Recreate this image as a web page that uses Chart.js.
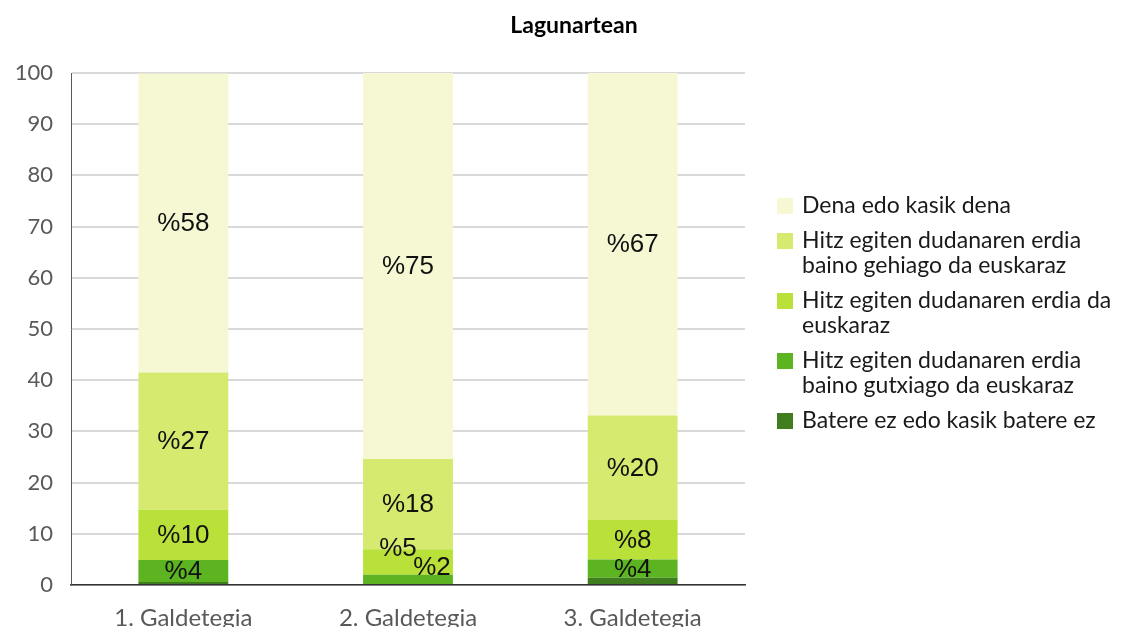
<!DOCTYPE html>
<html>
<head>
<meta charset="utf-8">
<script src="https://cdn.jsdelivr.net/npm/chart.js@4"></script>
<style>
  html, body { margin: 0; padding: 0; background: #fff; }
  #wrap { position: relative; width: 1128px; height: 627px; overflow: hidden; }
  #title { position: absolute; left: 474px; width: 200px; top: 10px; text-align: center; font-family: Lato, "Open Sans", sans-serif; font-weight: bold; font-size: 23px; color: #000; }
  #legend { position: absolute; left: 777px; top: 192px; font-family: Lato, "Open Sans", sans-serif; font-size: 23px; line-height: 25px; color: #1a1a1a; }
  #legend .item { display: flex; align-items: flex-start; margin-bottom: 10px; }
  #legend .box { width: 16px; height: 16px; margin: 6px 9px 0 0; flex: none; }
</style>
</head>
<body>
<div id="wrap">
  <canvas id="myChart" width="1128" height="627"></canvas>
  <div id="title">Lagunartean</div>
  <div id="legend"></div>
</div>
<script>
const categories = ['1. Galdetegia', '2. Galdetegia', '3. Galdetegia'];

// stacked from the bottom up
const batere = [0.6, 0, 1.4];
const gutxiago = [4.3, 2.0, 3.6];
const erdia = [9.8, 5.0, 7.7];
const gehiago = [26.8, 17.6, 20.4];
const dena = [58.4, 75.4, 66.9];

const seriesNames = [
  'Batere ez edo kasik batere ez',
  'Hitz egiten dudanaren erdia\nbaino gutxiago da euskaraz',
  'Hitz egiten dudanaren erdia da\neuskaraz',
  'Hitz egiten dudanaren erdia\nbaino gehiago da euskaraz',
  'Dena edo kasik dena'
];

const colors = ['rgb(64,125,30)', 'rgb(92,181,32)', 'rgb(186,225,58)', 'rgb(214,234,112)', 'rgb(246,248,212)'];

// hand-nudged labels where segments are too thin (dataset:index -> dx, dy)
const labelNudge = { '2:1': [-10, -14], '1:1': [24, -13] };

const segmentLabels = {
  id: 'segmentLabels',
  afterDatasetsDraw(chart) {
    const ctx = chart.ctx;
    ctx.save();
    ctx.font = '26px "Liberation Sans", Arial, sans-serif';
    ctx.fillStyle = '#111';
    ctx.textAlign = 'center';
    ctx.textBaseline = 'middle';
    chart.data.datasets.forEach((ds, di) => {
      const meta = chart.getDatasetMeta(di);
      meta.data.forEach((bar, i) => {
        const v = ds.data[i];
        if (v < 1.8) return;
        const nudge = labelNudge[di + ':' + i] || [0, 0];
        const y = (bar.y + bar.base) / 2;
        ctx.fillText('%' + Math.round(v), bar.x + nudge[0], y + nudge[1] + 1);
      });
    });
    ctx.restore();
  }
};

const values = [batere, gutxiago, erdia, gehiago, dena];
const datasets = values.map((data, i) => ({
  label: seriesNames[i],
  data: data,
  backgroundColor: colors[i],
  borderWidth: 0,
  barPercentage: 0.4,
  categoryPercentage: 1
}));

const chart = new Chart(document.getElementById('myChart').getContext('2d'), {
  type: 'bar',
  data: { labels: categories, datasets: datasets },
  plugins: [segmentLabels],
  options: {
    responsive: false,
    animation: false,
    layout: { padding: { left: 0, right: 383, top: 73, bottom: 0 } },
    plugins: {
      legend: { display: false },
      tooltip: { enabled: false },
      title: { display: false }
    },
    scales: {
      x: {
        stacked: true,
        grid: { display: false },
        border: { display: true, color: '#333', width: 1.5 },
        ticks: { color: '#595959', padding: 11, font: { family: 'Lato, "Open Sans", sans-serif', size: 24 } },
        afterFit(scale) { scale.height = 42; }
      },
      y: {
        stacked: true,
        min: 0,
        max: 100,
        ticks: { stepSize: 10, color: '#595959', padding: 18, font: { family: 'Lato, "Open Sans", sans-serif', size: 22 } },
        grid: { color: '#d9d9d9', lineWidth: 2, drawTicks: false },
        border: { display: true, color: '#595959', width: 1 },
        afterFit(scale) { scale.width = 71; }
      }
    }
  }
});

// legend on the right, top item first as in the stack
const legend = document.getElementById('legend');
for (let i = seriesNames.length - 1; i >= 0; i--) {
  const item = document.createElement('div');
  item.className = 'item';
  const box = document.createElement('span');
  box.className = 'box';
  box.style.background = colors[i];
  const txt = document.createElement('span');
  txt.innerHTML = seriesNames[i].replace('\n', '<br>');
  item.appendChild(box);
  item.appendChild(txt);
  legend.appendChild(item);
}
</script>
</body>
</html>
